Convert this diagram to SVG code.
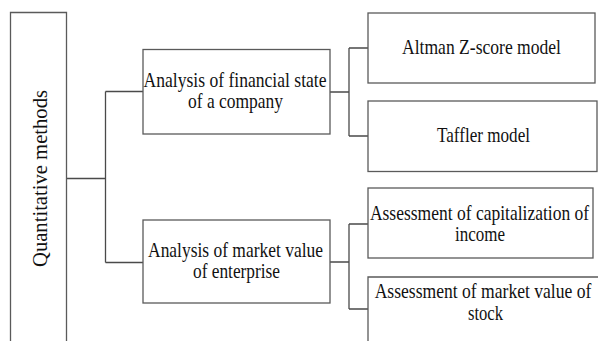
<svg xmlns="http://www.w3.org/2000/svg" width="598" height="341" viewBox="0 0 598 341">
<style>
.box{fill:#fff;stroke:#5a5a5a;stroke-width:1.3}
.ln{fill:none;stroke:#4a4a4a;stroke-width:1.3}
.t{font-size:21px;fill:#111;text-anchor:middle}
</style>
<rect width="598" height="341" fill="#fff"/>
<g id="connectors">
<path class="ln" d="M66.5 178.5H105.5M105.5 91.5V262.5M105.5 91.5H143M105.5 262.5H143"/>
<path class="ln" d="M330 92H349M349 48V136M349 48H368M349 136H368"/>
<path class="ln" d="M330 262H349M349 224V309M349 224H368M349 309H368"/>
</g>
<g font-family="Liberation Serif, Tinos, Times New Roman, serif">
<g id="n-quant">
<path class="box" d="M10.5 350V12.5H66.5V350"/>
<text class="t" transform="translate(46.5,178.5) rotate(-90) scale(0.84,1)" textLength="210.7" lengthAdjust="spacingAndGlyphs">Quantitative methods</text>
</g>
<g id="n-fin">
<rect class="box" x="143" y="49.5" width="187" height="84.5"/>
<text class="t" transform="translate(235,87) scale(0.84,1)" textLength="217.9" lengthAdjust="spacingAndGlyphs">Analysis of financial state</text>
<text class="t" transform="translate(235.5,107.5) scale(0.84,1)" textLength="113.1" lengthAdjust="spacingAndGlyphs">of a company</text>
</g>
<g id="n-mkt">
<rect class="box" x="143" y="220" width="187" height="83"/>
<text class="t" transform="translate(235.5,257.3) scale(0.84,1)" textLength="208.3" lengthAdjust="spacingAndGlyphs">Analysis of market value</text>
<text class="t" transform="translate(236.5,278) scale(0.84,1)" textLength="103.6" lengthAdjust="spacingAndGlyphs">of enterprise</text>
</g>
<g id="n-altman">
<rect class="box" x="368" y="13" width="227" height="70"/>
<text class="t" transform="translate(481.5,54) scale(0.84,1)" textLength="189.3" lengthAdjust="spacingAndGlyphs">Altman Z-score model</text>
</g>
<g id="n-taffler">
<rect class="box" x="368" y="101" width="229" height="70.5"/>
<text class="t" transform="translate(483.5,142) scale(0.84,1)" textLength="110.7" lengthAdjust="spacingAndGlyphs">Taffler model</text>
</g>
<g id="n-cap">
<rect class="box" x="368" y="188" width="225" height="70"/>
<text class="t" transform="translate(479.5,220) scale(0.84,1)" textLength="261" lengthAdjust="spacingAndGlyphs">Assessment of capitalization of</text>
<text class="t" transform="translate(480,240.5) scale(0.84,1)" textLength="59.5" lengthAdjust="spacingAndGlyphs">income</text>
</g>
<g id="n-stock">
<path class="box" d="M368 350V277H600"/>
<text class="t" transform="translate(483,297.7) scale(0.84,1)" textLength="258" lengthAdjust="spacingAndGlyphs">Assessment of market value of</text>
<text class="t" transform="translate(485.5,320) scale(0.84,1)" textLength="41.7" lengthAdjust="spacingAndGlyphs">stock</text>
</g>
</g>
</svg>
